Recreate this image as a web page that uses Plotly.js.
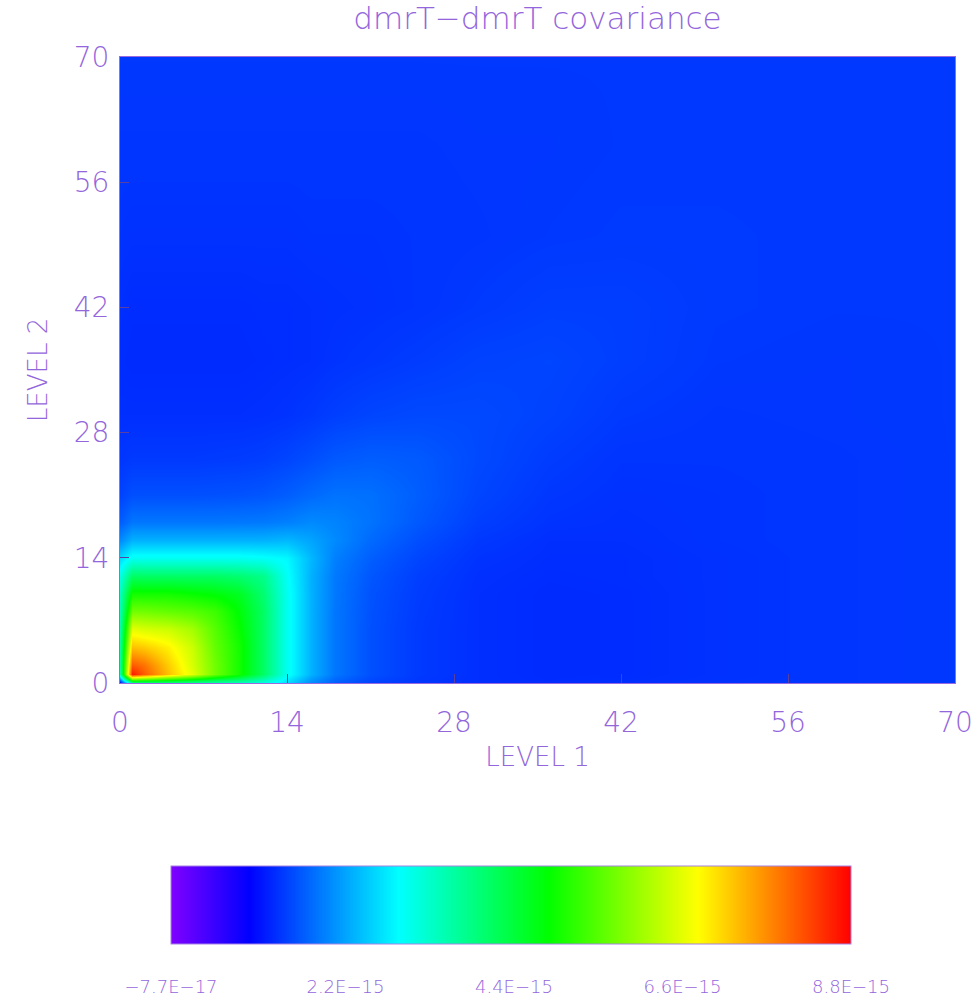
<!DOCTYPE html>
<html>
<head>
<meta charset="utf-8">
<script src="https://cdn.plot.ly/plotly-3.0.1.min.js"></script>
<style>html,body{margin:0;padding:0;background:#fff;}#chart{width:976px;height:1002px;}</style>
</head>
<body>
<div id="chart"></div>
<script>
// Level grid (LEVEL 1 = x, LEVEL 2 = y)
const levels = [0, 1, 2, 4, 6, 8, 10, 12, 14, 16, 18, 21, 25, 30, 36, 42, 50, 60, 70];
// Covariance values in units of 1E-15, rows follow LEVEL 2, columns LEVEL 1
const covRow0  = [0.9, 3.6, 3.7, 3.7, 3.6, 3.5, 3.4, 3.1, 2.6, 2.0, 1.65, 1.45, 1.35, 1.3, 1.28, 1.3, 1.33, 1.35, 1.37];
const covRow1  = [3.6, 8.6, 8.1, 7.3, 6.6, 5.7, 5.0, 4.1, 3.0, 2.3, 1.85, 1.55, 1.38, 1.3, 1.27, 1.28, 1.32, 1.35, 1.37];
const covRow2  = [3.7, 8.1, 7.9, 7.2, 6.5, 5.7, 5.0, 4.1, 3.0, 2.3, 1.85, 1.55, 1.38, 1.3, 1.27, 1.28, 1.32, 1.35, 1.37];
const covRow4  = [3.7, 7.3, 7.2, 6.9, 6.4, 5.6, 5.0, 4.1, 3.0, 2.3, 1.85, 1.55, 1.38, 1.3, 1.27, 1.28, 1.32, 1.35, 1.37];
const covRow6  = [3.6, 6.6, 6.5, 6.4, 6.1, 5.5, 4.9, 4.1, 3.0, 2.3, 1.85, 1.55, 1.38, 1.3, 1.27, 1.28, 1.32, 1.35, 1.37];
const covRow8  = [3.5, 5.7, 5.7, 5.6, 5.5, 5.3, 4.8, 4.1, 3.0, 2.3, 1.85, 1.56, 1.39, 1.3, 1.27, 1.28, 1.32, 1.35, 1.37];
const covRow10 = [3.4, 5.0, 5.0, 5.0, 4.9, 4.8, 4.6, 4.0, 3.0, 2.3, 1.86, 1.57, 1.4, 1.3, 1.27, 1.28, 1.32, 1.35, 1.37];
const covRow12 = [3.1, 4.1, 4.1, 4.1, 4.1, 4.1, 4.0, 3.8, 2.95, 2.3, 1.87, 1.6, 1.42, 1.31, 1.28, 1.29, 1.32, 1.35, 1.37];
const covRow14 = [2.6, 3.0, 3.0, 3.0, 3.0, 3.0, 3.0, 2.95, 2.85, 2.35, 1.92, 1.66, 1.47, 1.33, 1.29, 1.29, 1.32, 1.35, 1.37];
const covRow16 = [2.0, 2.3, 2.3, 2.3, 2.3, 2.3, 2.3, 2.3, 2.35, 2.2, 2.0, 1.75, 1.54, 1.37, 1.3, 1.3, 1.33, 1.35, 1.37];
const covRow18 = [1.65, 1.85, 1.85, 1.85, 1.85, 1.85, 1.86, 1.87, 1.92, 2.0, 1.95, 1.82, 1.62, 1.42, 1.33, 1.31, 1.33, 1.35, 1.37];
const covRow21 = [1.45, 1.55, 1.55, 1.55, 1.55, 1.56, 1.57, 1.6, 1.66, 1.75, 1.82, 1.8, 1.66, 1.47, 1.36, 1.32, 1.33, 1.35, 1.37];
const covRow25 = [1.35, 1.38, 1.38, 1.38, 1.38, 1.39, 1.4, 1.42, 1.47, 1.54, 1.62, 1.66, 1.63, 1.5, 1.4, 1.34, 1.34, 1.35, 1.37];
const covRow30 = [1.3, 1.3, 1.3, 1.3, 1.3, 1.3, 1.3, 1.31, 1.33, 1.37, 1.42, 1.47, 1.5, 1.5, 1.45, 1.38, 1.35, 1.36, 1.37];
const covRow36 = [1.28, 1.27, 1.27, 1.27, 1.27, 1.27, 1.27, 1.28, 1.29, 1.3, 1.33, 1.36, 1.4, 1.45, 1.47, 1.42, 1.37, 1.36, 1.37];
const covRow42 = [1.3, 1.28, 1.28, 1.28, 1.28, 1.28, 1.28, 1.29, 1.29, 1.3, 1.31, 1.32, 1.34, 1.38, 1.42, 1.42, 1.38, 1.37, 1.37];
const covRow50 = [1.33, 1.32, 1.32, 1.32, 1.32, 1.32, 1.32, 1.32, 1.32, 1.33, 1.33, 1.33, 1.34, 1.35, 1.37, 1.38, 1.38, 1.37, 1.37];
const covRow60 = [1.35, 1.35, 1.35, 1.35, 1.35, 1.35, 1.35, 1.35, 1.35, 1.35, 1.35, 1.35, 1.35, 1.36, 1.36, 1.37, 1.37, 1.37, 1.37];
const covRow70 = [1.37, 1.37, 1.37, 1.37, 1.37, 1.37, 1.37, 1.37, 1.37, 1.37, 1.37, 1.37, 1.37, 1.37, 1.37, 1.37, 1.37, 1.37, 1.37];
const covRows = [covRow0, covRow1, covRow2, covRow4, covRow6, covRow8, covRow10, covRow12, covRow14,
                 covRow16, covRow18, covRow21, covRow25, covRow30, covRow36, covRow42, covRow50, covRow60, covRow70];
const unitScale = 1e-15;

// Colour bar
const zMin = -7.7e-17;
const zMax = 8.8e-15;
const cbTickVals = [-7.7e-17, 2.2e-15, 4.4e-15, 6.6e-15, 8.8e-15];
const cbTickText = ['\u22127.7E\u221217', '2.2E\u221215', '4.4E\u221215', '6.6E\u221215', '8.8E\u221215'];
const axisTicks = [0, 14, 28, 42, 56, 70];

const purple = '#9366dc';
const fontFam = 'DejaVu Sans, Noto Sans, sans-serif';

const z = covRows.map(r => r.map(v => v * unitScale));

const trace = {
  type: 'heatmap',
  x: levels,
  y: levels,
  z: z,
  zmin: zMin,
  zmax: zMax,
  zsmooth: 'best',
  colorscale: [
    [0, 'rgb(128,0,255)'],
    [0.115, 'rgb(0,0,255)'],
    [0.335, 'rgb(0,255,255)'],
    [0.555, 'rgb(0,255,0)'],
    [0.775, 'rgb(255,255,0)'],
    [1, 'rgb(255,0,0)']
  ],
  colorbar: {
    orientation: 'h',
    x: 0.4683, xanchor: 'center',
    y: -0.2923, yanchor: 'top',
    len: 0.8144, lenmode: 'fraction',
    thickness: 78, thicknessmode: 'pixels',
    outlinewidth: 1, outlinecolor: '#a582e4',
    tickmode: 'array', tickvals: cbTickVals, ticktext: cbTickText,
    ticks: 'outside', ticklen: 27, tickcolor: 'rgba(0,0,0,0)',
    tickfont: {family: fontFam, size: 18, color: purple, weight: 200},
    xpad: 0, ypad: 0
  }
};

const axisCommon = {
  range: [0, 70], autorange: false,
  tickmode: 'array', tickvals: axisTicks,
  ticks: 'inside', ticklen: 9, tickcolor: '#5a40a0', tickwidth: 1,
  showgrid: false, zeroline: false,
  showline: true, linecolor: '#9a6ae0', linewidth: 1, mirror: true,
  tickfont: {family: fontFam, size: 28, color: purple, weight: 200}
};

const layout = {
  width: 976, height: 1002,
  margin: {l: 120, r: 21, t: 57, b: 319, autoexpand: false},
  paper_bgcolor: '#ffffff', plot_bgcolor: '#0038ff',
  title: {text: 'dmrT\u2212dmrT covariance', x: 0.5, xref: 'paper', y: 0.982, yref: 'container', yanchor: 'middle',
          font: {family: fontFam, size: 31, color: purple, weight: 200}},
  xaxis: Object.assign({}, axisCommon, {
    ticklabelstandoff: 14,
    title: {text: 'LEVEL 1', standoff: 10, font: {family: fontFam, size: 26, color: purple, weight: 200}}
  }),
  yaxis: Object.assign({}, axisCommon, {
    ticklabelstandoff: 4,
    title: {text: 'LEVEL 2', standoff: 18, font: {family: fontFam, size: 26, color: purple, weight: 200}}
  }),
  showlegend: false
};

Plotly.newPlot('chart', [trace], layout, {displayModeBar: false, staticPlot: true});
</script>
</body>
</html>
